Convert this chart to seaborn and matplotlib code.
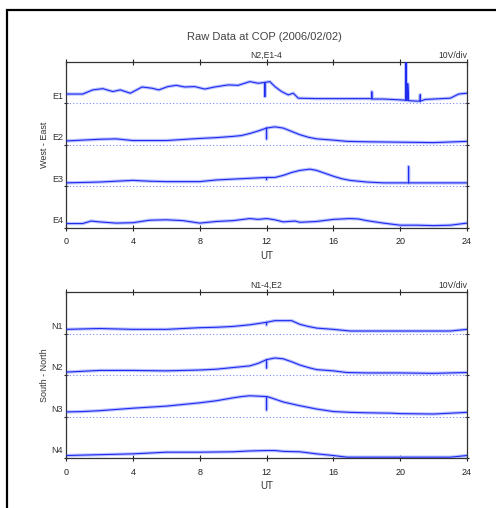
import numpy as np
import pandas as pd
import matplotlib
matplotlib.use("Agg")
import matplotlib.pyplot as plt
import seaborn as sns
from matplotlib.patches import Rectangle
from matplotlib.transforms import blended_transform_factory

# --- data: signal height above each trace baseline (in divisions, 10 V/div) ---
E1_t = [0, 1, 1.6, 2.2, 2.8, 3.25, 3.85, 4.55, 5.15, 5.55, 6.1, 6.6, 7.1, 7.7, 8.3, 8.9, 9.7, 10.3,
        11.0, 11.5, 11.9, 11.9, 11.9, 12.2, 12.5, 12.9, 13.3, 13.6, 13.9, 15, 16, 17, 18.3, 18.3,
        18.3, 19, 20, 20.35, 20.35, 20.35, 20.45, 20.45, 20.5, 21, 21.2, 21.2, 21.2, 21.5, 22, 23,
        23.5, 24]
E1_v = [0.22, 0.22, 0.32, 0.35, 0.28, 0.32, 0.24, 0.39, 0.36, 0.32, 0.40, 0.43, 0.39, 0.40, 0.34, 0.39,
        0.44, 0.43, 0.52, 0.48, 0.50, 0.16, 0.50, 0.52, 0.40, 0.28, 0.20, 0.24, 0.12, 0.11, 0.11, 0.11,
        0.11, 0.27, 0.10, 0.10, 0.08, 0.07, 0.99, 0.07, 0.07, 0.47, 0.06, 0.05, 0.05, 0.20, 0.05, 0.09,
        0.10, 0.12, 0.22, 0.24]

E2_t = [0, 2, 3, 4, 6, 8, 9, 10, 10.5, 11, 11.5, 12, 12, 12, 12.5, 13, 13.5, 14, 14.5, 15, 16, 16.8,
        18, 20, 22, 24]
E2_v = [0.09, 0.13, 0.14, 0.10, 0.10, 0.15, 0.17, 0.20, 0.22, 0.27, 0.33, 0.40, 0.14, 0.40, 0.43, 0.40,
        0.32, 0.24, 0.18, 0.14, 0.11, 0.08, 0.07, 0.06, 0.05, 0.08]

E3_t = [0, 2, 3, 4, 5, 6, 8, 9, 10, 11, 12, 12, 12, 12.5, 13, 13.5, 14, 14.6, 15, 15.5, 16, 16.5, 17,
        18, 19, 20.5, 20.5, 20.5, 22, 24]
E3_v = [0.08, 0.10, 0.12, 0.14, 0.12, 0.11, 0.11, 0.15, 0.17, 0.19, 0.21, 0.16, 0.21, 0.21, 0.26, 0.33,
        0.38, 0.41, 0.38, 0.31, 0.24, 0.18, 0.14, 0.10, 0.08, 0.08, 0.47, 0.08, 0.08, 0.08]

E4_t = [0, 1, 1.5, 2, 3, 4, 5, 6, 7, 8, 9, 10, 11, 11.5, 12, 12.5, 13, 13.7, 14, 15, 16, 17, 17.5,
        18, 19, 20, 21, 22, 23, 24]
E4_v = [0.10, 0.10, 0.16, 0.14, 0.11, 0.12, 0.18, 0.19, 0.17, 0.11, 0.15, 0.17, 0.22, 0.20, 0.22, 0.19,
        0.14, 0.16, 0.13, 0.15, 0.20, 0.22, 0.21, 0.17, 0.11, 0.06, 0.06, 0.05, 0.06, 0.11]

N1_t = [0, 2, 4, 6, 7, 8, 9, 10, 11, 12, 12, 12, 12.5, 13, 13.5, 14, 14.5, 15, 16, 17, 18, 20, 22, 23, 24]
N1_v = [0.10, 0.12, 0.10, 0.10, 0.12, 0.14, 0.15, 0.17, 0.21, 0.27, 0.21, 0.27, 0.31, 0.31, 0.31, 0.22,
        0.17, 0.13, 0.10, 0.06, 0.06, 0.06, 0.06, 0.06, 0.10]

N2_t = [0, 2, 4, 6, 8, 9, 10, 11, 11.5, 12, 12, 12, 12.5, 13, 13.5, 14, 14.5, 15, 16, 16.8, 18, 20, 22, 24]
N2_v = [0.07, 0.11, 0.11, 0.10, 0.12, 0.14, 0.18, 0.22, 0.28, 0.37, 0.17, 0.37, 0.41, 0.39, 0.32, 0.24,
        0.18, 0.13, 0.10, 0.06, 0.05, 0.05, 0.04, 0.06]

N3_t = [0, 1, 2, 4, 6, 7, 8, 9, 10, 10.5, 11, 11.5, 12, 12, 12, 12.2, 13, 14, 15, 16, 17, 18, 19.5, 20,
        22, 24]
N3_v = [0.11, 0.12, 0.14, 0.20, 0.25, 0.29, 0.33, 0.38, 0.45, 0.48, 0.50, 0.49, 0.48, 0.16, 0.48, 0.46,
        0.35, 0.26, 0.18, 0.12, 0.10, 0.09, 0.08, 0.07, 0.06, 0.10]

N4_t = [0, 2, 4, 6, 8, 10, 11, 12, 12.5, 13, 14, 15, 16, 16.8, 18, 20, 22, 23, 24]
N4_v = [0.06, 0.08, 0.10, 0.14, 0.14, 0.15, 0.17, 0.18, 0.18, 0.16, 0.15, 0.10, 0.06, 0.02, 0.02, 0.02,
        0.02, 0.02, 0.06]

top_names = ["E1", "E2", "E3", "E4"]
bottom_names = ["N1", "N2", "N3", "N4"]
baselines = [3, 2, 1, 0]
hour_ticks = [0, 4, 8, 12, 16, 20, 24]

series = {
    "E1": (E1_t, E1_v), "E2": (E2_t, E2_v), "E3": (E3_t, E3_v), "E4": (E4_t, E4_v),
    "N1": (N1_t, N1_v), "N2": (N2_t, N2_v), "N3": (N3_t, N3_v), "N4": (N4_t, N4_v),
}


def panel_frame(names):
    frames = []
    for name, base in zip(names, baselines):
        t, v = series[name]
        df = pd.DataFrame({"UT": t, "level": np.array(v) + base})
        df["trace"] = name
        frames.append(df)
    return pd.concat(frames, ignore_index=True)


sns.set_theme(style="white")
plt.rcParams["font.family"] = ["Liberation Sans", "DejaVu Sans"]

fig = plt.figure(figsize=(4.96, 5.08), dpi=100)
ax_top = fig.add_axes([0.1331, 0.5518, 0.8085, 0.3268])
ax_bot = fig.add_axes([0.1331, 0.0984, 0.8085, 0.3268])


def draw_panel(ax, names, subtitle, ylabel):
    df = panel_frame(names)
    for base in baselines:
        ax.axhline(base, color="#7c86ff", linestyle=(0, (1, 2)), linewidth=0.8, zorder=1)
    # soft halo + core line, like the scanned plot
    sns.lineplot(data=df, x="UT", y="level", units="trace", estimator=None, sort=False,
                 color="#bcc3ff", linewidth=2.4, ax=ax, legend=False, zorder=2)
    sns.lineplot(data=df, x="UT", y="level", units="trace", estimator=None, sort=False,
                 color="#1f2cf0", linewidth=0.8, ax=ax, legend=False, zorder=3)
    ax.set_xlim(0, 24)
    ax.set_ylim(0, 4)
    ax.set_xticks(hour_ticks)
    ax.set_yticks(baselines)
    ax.set_yticklabels([])
    ax.tick_params(axis="x", which="both", direction="inout", length=4, width=0.8,
                   top=True, bottom=True, labelsize=6.5, pad=5, colors="#222222")
    ax.tick_params(axis="y", which="both", direction="inout", length=3, width=0.8,
                   left=True, right=True, colors="#222222")
    for sp in ax.spines.values():
        sp.set_color("#333333")
        sp.set_linewidth(0.9)
    ax.set_xlabel("UT", fontsize=7, labelpad=3, color="#333333")
    ax.set_ylabel(ylabel, fontsize=6.5, labelpad=7, color="#333333")
    trans = blended_transform_factory(ax.transAxes, ax.transData)
    for name, base in zip(names, baselines):
        ax.text(-0.008, base + 0.17, name, transform=trans, ha="right", va="center",
                fontsize=6.5, color="#333333")
    ax.text(0.5, 1.012, subtitle, transform=ax.transAxes, ha="center", va="bottom",
            fontsize=6.2, color="#333333")
    ax.text(1.0, 1.012, "10V/div", transform=ax.transAxes, ha="right", va="bottom",
            fontsize=6.2, color="#333333")


draw_panel(ax_top, top_names, "N2,E1-4", "West - East")
draw_panel(ax_bot, bottom_names, "N1-4,E2", "South - North")

fig.text(0.534, 0.927, "Raw Data at COP (2006/02/02)", ha="center", va="center",
         fontsize=8, color="#444444")

# outer frame of the scanned page
fig.patches.append(Rectangle((7 / 496, -0.1), 1.2, 1.1 - 10 / 508, transform=fig.transFigure,
                             fill=False, edgecolor="black", linewidth=1.6))

fig.savefig("out.png", dpi=100)
